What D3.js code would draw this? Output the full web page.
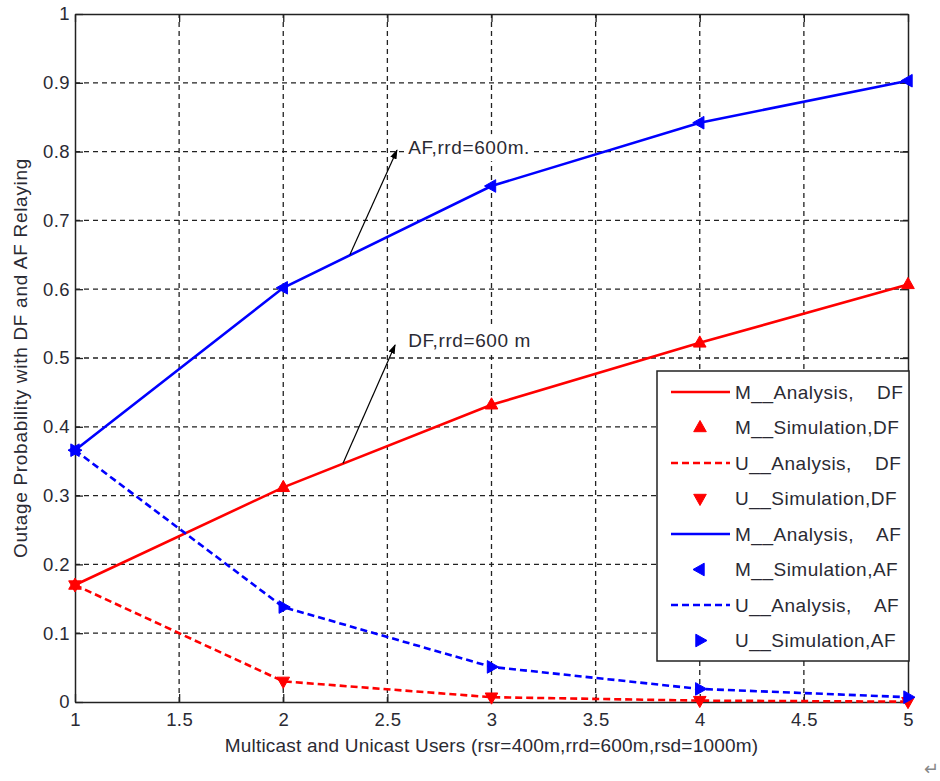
<!DOCTYPE html>
<html>
<head>
<meta charset="utf-8">
<script src="https://cdn.jsdelivr.net/npm/d3@7/dist/d3.min.js"></script>
<style>
  body { margin: 0; background: #fff; }
  svg { display: block; font-family: "Liberation Sans", Arial, sans-serif; }
</style>
</head>
<body>
<svg id="chart" width="940" height="781"></svg>
<script>
// Number of multicast / unicast users
const users = [1, 2, 3, 4, 5];

// Outage probabilities
const multicastDF = [0.170, 0.312, 0.432, 0.522, 0.607];
const unicastDF   = [0.170, 0.030, 0.007, 0.002, 0.0005];
const multicastAF = [0.366, 0.602, 0.750, 0.842, 0.903];
const unicastAF   = [0.366, 0.138, 0.051, 0.019, 0.007];

const xTicks = [1, 1.5, 2, 2.5, 3, 3.5, 4, 4.5, 5];
const yTicks = [0, 0.1, 0.2, 0.3, 0.4, 0.5, 0.6, 0.7, 0.8, 0.9, 1];

const series = [
  { name: "M__Analysis,    DF", values: multicastDF, color: "#ff0000", dash: null, marker: null },
  { name: "M__Simulation,DF", values: multicastDF, color: "#ff0000", dash: null, marker: "up", lineless: true },
  { name: "U__Analysis,    DF", values: unicastDF, color: "#ff0000", dash: "7,4", marker: null },
  { name: "U__Simulation,DF", values: unicastDF, color: "#ff0000", dash: null, marker: "down", lineless: true },
  { name: "M__Analysis,    AF", values: multicastAF, color: "#0000ff", dash: null, marker: null },
  { name: "M__Simulation,AF", values: multicastAF, color: "#0000ff", dash: null, marker: "left", lineless: true },
  { name: "U__Analysis,    AF", values: unicastAF, color: "#0000ff", dash: "7,4", marker: null },
  { name: "U__Simulation,AF", values: unicastAF, color: "#0000ff", dash: null, marker: "right", lineless: true }
];

const svg = d3.select("#chart");
const x = d3.scaleLinear().domain([1, 5]).range([75, 908]);
const y = d3.scaleLinear().domain([0, 1]).range([702, 14]);
const textColor = "#2a2a33";
const fontSize = 18.5;

// Grid
const grid = svg.append("g").attr("stroke", "#222").attr("stroke-width", 1.3)
  .attr("stroke-dasharray", "5,4");
grid.selectAll(".gx").data(xTicks.slice(1, -1)).join("line")
  .attr("x1", d => x(d)).attr("x2", d => x(d)).attr("y1", y(0)).attr("y2", y(1));
grid.selectAll(".gy").data(yTicks.slice(1, -1)).join("line")
  .attr("x1", x(1)).attr("x2", x(5)).attr("y1", d => y(d)).attr("y2", d => y(d));

// Axes (ticks inside the frame)
const axB = svg.append("g").attr("transform", `translate(0,${y(0)})`)
  .call(d3.axisBottom(x).tickValues(xTicks).tickSizeInner(-8).tickSizeOuter(0).tickPadding(11).tickFormat(d3.format("")));
const axT = svg.append("g").attr("transform", `translate(0,${y(1)})`)
  .call(d3.axisTop(x).tickValues(xTicks).tickSizeInner(-8).tickSizeOuter(0).tickFormat(""));
const axL = svg.append("g").attr("transform", `translate(${x(1)},0)`)
  .call(d3.axisLeft(y).tickValues(yTicks).tickSizeInner(-8).tickSizeOuter(0).tickPadding(5).tickFormat(d3.format("")));
const axR = svg.append("g").attr("transform", `translate(${x(5)},0)`)
  .call(d3.axisRight(y).tickValues(yTicks).tickSizeInner(-8).tickSizeOuter(0).tickFormat(""));
[axB, axT, axL, axR].forEach(a => {
  a.selectAll("path.domain").attr("stroke", "#222").attr("stroke-width", 1.5);
  a.selectAll(".tick line").attr("stroke", "#222").attr("stroke-width", 1.3);
  a.selectAll("text").attr("fill", textColor).attr("font-size", fontSize)
    .attr("letter-spacing", 0.4)
    .attr("font-family", "Liberation Sans, Arial, sans-serif");
});
axB.selectAll("text").attr("dy", "0.71em");

// Data lines
const line = d3.line().x((d, i) => x(users[i])).y(d => y(d));
series.filter(s => !s.lineless).forEach(s => {
  svg.append("path").datum(s.values)
    .attr("d", line).attr("fill", "none")
    .attr("stroke", s.color).attr("stroke-width", 2.6)
    .attr("stroke-dasharray", s.dash);
});

// Triangle marker paths
function tri(dir, r) {
  const a = r, b = r * 0.9;
  switch (dir) {
    case "up": return `M0,${-a}L${b},${a * 0.6}L${-b},${a * 0.6}Z`;
    case "down": return `M0,${a}L${b},${-a * 0.6}L${-b},${-a * 0.6}Z`;
    case "left": return `M${-a},0L${a * 0.6},${b}L${a * 0.6},${-b}Z`;
    case "right": return `M${a},0L${-a * 0.6},${b}L${-a * 0.6},${-b}Z`;
  }
}
series.filter(s => s.marker).forEach(s => {
  svg.append("g").selectAll("path").data(s.values).join("path")
    .attr("transform", (d, i) => `translate(${x(users[i])},${y(d)})`)
    .attr("d", tri(s.marker, 7)).attr("fill", s.color).attr("stroke", s.color);
});

// Annotations
const defs = svg.append("defs");
defs.append("marker").attr("id", "arrow").attr("viewBox", "0 0 10 10")
  .attr("refX", 9).attr("refY", 5).attr("markerWidth", 8).attr("markerHeight", 8)
  .attr("orient", "auto-start-reverse")
  .append("path").attr("d", "M0,1.5L10,5L0,8.5Z").attr("fill", "#000");

const notes = [
  { text: "AF,rrd=600m.", from: [2.32, 0.65], to: [2.546, 0.802], at: [2.60, 0.806] },
  { text: "DF,rrd=600 m", from: [2.287, 0.347], to: [2.537, 0.519], at: [2.60, 0.526] }
];
notes.forEach(n => {
  const tx = x(n.at[0]), ty = y(n.at[1]);
  const t = svg.append("text").attr("x", tx).attr("y", ty).attr("dy", "0.35em")
    .attr("font-size", 19).attr("letter-spacing", 0.6).attr("fill", textColor).text(n.text);
  const bb = t.node().getBBox();
  svg.insert("rect", () => t.node())
    .attr("x", bb.x - 3).attr("y", bb.y - 3).attr("width", bb.width + 4).attr("height", bb.height + 6)
    .attr("fill", "#fff");
  svg.append("line")
    .attr("x1", x(n.from[0])).attr("y1", y(n.from[1]))
    .attr("x2", x(n.to[0])).attr("y2", y(n.to[1]))
    .attr("stroke", "#000").attr("stroke-width", 1.2)
    .attr("marker-end", "url(#arrow)");
});

// Legend
const lg = svg.append("g").attr("transform", "translate(657,371)");
lg.append("rect").attr("width", 252).attr("height", 290)
  .attr("fill", "#fff").attr("stroke", "#222").attr("stroke-width", 1.5);
series.forEach((s, i) => {
  const cy = 21 + i * 35.5;
  const row = lg.append("g").attr("transform", `translate(0,${cy})`);
  if (s.marker) {
    row.append("path").attr("transform", "translate(43,0)")
      .attr("d", tri(s.marker, 7)).attr("fill", s.color).attr("stroke", s.color);
  } else {
    row.append("line").attr("x1", 14).attr("x2", 73).attr("y1", 0).attr("y2", 0)
      .attr("stroke", s.color).attr("stroke-width", 2.6).attr("stroke-dasharray", s.dash);
  }
  row.append("text").attr("x", 78).attr("dy", "0.35em")
    .attr("font-size", 19).attr("letter-spacing", 0.5).attr("fill", textColor)
    .style("white-space", "pre").text(s.name);
});

// Axis titles
svg.append("text").attr("x", (x(1) + x(5)) / 2).attr("y", 752)
  .attr("text-anchor", "middle").attr("font-size", 19).attr("letter-spacing", 0.2)
  .attr("fill", textColor)
  .text("Multicast and Unicast Users (rsr=400m,rrd=600m,rsd=1000m)");
svg.append("text").attr("transform", `translate(27,${(y(0) + y(1)) / 2}) rotate(-90)`)
  .attr("text-anchor", "middle").attr("font-size", 19).attr("letter-spacing", 0.7)
  .attr("fill", textColor)
  .text("Outage Probability with DF and AF Relaying");

// Paragraph mark at the page corner
svg.append("text").attr("x", 924).attr("y", 775).attr("font-size", 18).attr("fill", "#888")
  .text("↵");
</script>
</body>
</html>
